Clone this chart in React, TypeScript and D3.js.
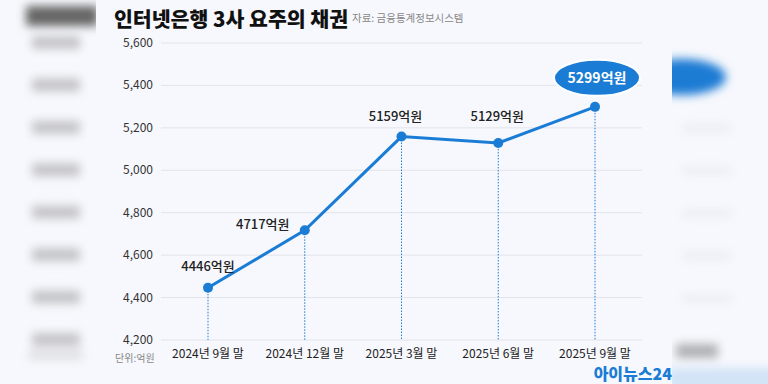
import React from "react";
import * as d3 from "d3";

const categories = ["2024년 9월 말", "2024년 12월 말", "2025년 3월 말", "2025년 6월 말", "2025년 9월 말"];
const values = [4446, 4717, 5159, 5129, 5299];
const yTicks = [4200, 4400, 4600, 4800, 5000, 5200, 5400, 5600];
const title = "인터넷은행 3사 요주의 채권";
const source = "자료: 금융통계정보시스템";
const unit = "단위:억원";
const logo = "아이뉴스24";

const W = 768, H = 384;
const BLUE = "#1a7cd4";
const FONT = "'Noto Sans CJK KR', 'Noto Sans', sans-serif";

export default function App() {
  const x = d3.scalePoint<string>().domain(categories).range([208, 595]);
  const y = d3.scaleLinear().domain([4200, 5600]).range([340, 43]);
  const line = d3.line<number>().x((_, i) => x(categories[i])!).y(d => y(d));
  const labelOffsets: [number, number][] = [[0, -17], [-42, -1], [-6, -16], [-1, -22], [0, 0]];
  const fmt = d3.format(",");

  return (
    <svg width={W} height={H} style={{ position: "absolute", left: 0, top: 0 }} fontFamily={FONT}>
      <defs>
        <filter id="b6" x="-50%" y="-50%" width="200%" height="200%"><feGaussianBlur stdDeviation="5" /></filter>
        <clipPath id="rightClip"><rect x={672} y={0} width={96} height={H} /></clipPath>
        <clipPath id="leftClip"><rect x={0} y={0} width={96} height={H} /></clipPath>
      </defs>
      <rect width={W} height={H} fill="#f7f8fd" />
      {/* blurred left side */}
      <g clipPath="url(#leftClip)">
        <g filter="url(#b6)">
          <rect x={26} y={6} width={72} height={20} fill="#666" />
          {yTicks.map(t => (
            <rect key={t} x={32} y={y(t) - 7} width={48} height={13} fill="#c4c4c8" />
          ))}
          <rect x={28} y={350} width={55} height={10} fill="#e0e0e4" />
        </g>
      </g>
      {/* blurred right side */}
      <g clipPath="url(#rightClip)">
        <g filter="url(#b6)">
          <ellipse cx={682} cy={77} rx={44} ry={18} fill={BLUE} />
          {yTicks.slice(1, 6).map(t => (
            <rect key={t} x={682} y={y(t) - 4} width={50} height={9} fill="#eceef5" />
          ))}
          <rect x={676} y={344} width={42} height={14} fill="#b0b0b4" />
          <rect x={668} y={368} width={110} height={22} fill="#d2e3f6" />
        </g>
      </g>

      {/* title */}
      <text x={114} y={27} fontSize={20.5} fontWeight={900} fill="#111">{title}</text>
      <text x={352} y={22} fontSize={10.5} fill="#888">{source}</text>

      {/* grid */}
      {yTicks.map(t => (
        <g key={t}>
          <line x1={161} x2={642} y1={y(t)} y2={y(t)} stroke="#e2e4ea" strokeWidth={1} />
          <text x={153} y={y(t) + 4} fontSize={12} textAnchor="end" fill="#333">{fmt(t)}</text>
        </g>
      ))}
      <text x={115} y={362} fontSize={10} fill="#888">{unit}</text>

      {/* dotted drops */}
      {values.map((v, i) => (
        <line key={i} x1={x(categories[i])} x2={x(categories[i])} y1={y(v)} y2={340} stroke={BLUE} strokeWidth={1} strokeDasharray="1.5,1.5" />
      ))}

      <path d={line(values)!} fill="none" stroke={BLUE} strokeWidth={3} />
      {values.map((v, i) => (
        <circle key={i} cx={x(categories[i])} cy={y(v)} r={5} fill={BLUE} />
      ))}

      {/* x labels */}
      {categories.map(c => (
        <text key={c} x={x(c)} y={358} fontSize={12} textAnchor="middle" fill="#222">{c}</text>
      ))}

      {/* value labels */}
      {values.map((v, i) => {
        if (i === values.length - 1) return null;
        const [dx, dy] = labelOffsets[i];
        return (
          <text key={i} x={x(categories[i])! + dx} y={y(v) + dy} fontSize={13} fontWeight={500} textAnchor="middle" fill="#222">{v}억원</text>
        );
      })}
      <ellipse cx={x(categories[4])! + 2} cy={y(values[4]) - 29} rx={43} ry={18} fill={BLUE} stroke="#fff" strokeWidth={2} />
      <text x={x(categories[4])! + 2} y={y(values[4]) - 24} fontSize={14} fontWeight={700} textAnchor="middle" fill="#fff">{values[4]}억원</text>

      <text x={672} y={380} fontSize={16} fontWeight={900} textAnchor="end" fill={BLUE}>{logo}</text>
    </svg>
  );
}
